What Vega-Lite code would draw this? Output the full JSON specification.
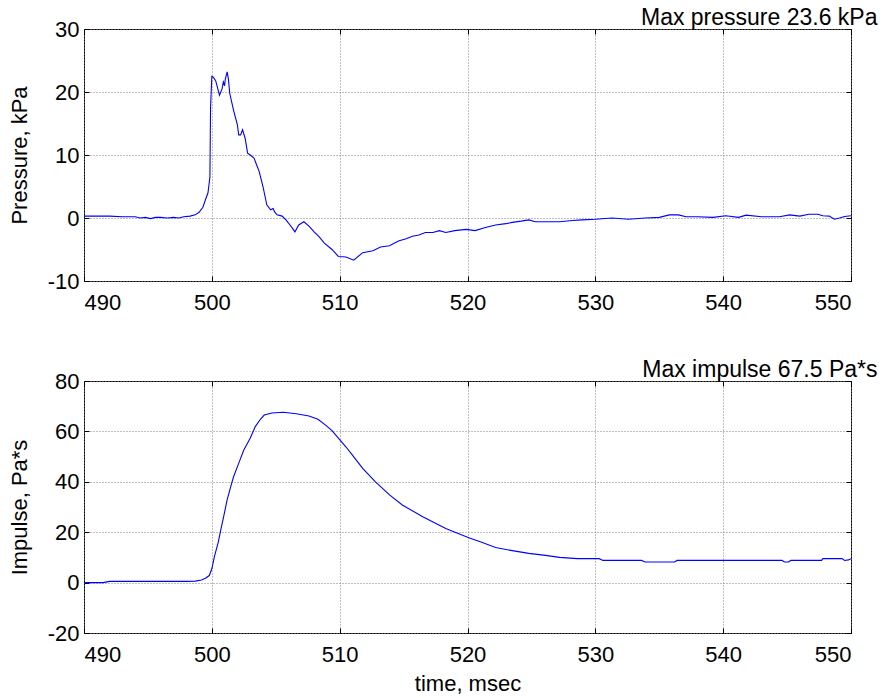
{
  "$schema": "https://vega.github.io/schema/vega-lite/v6.json",
  "padding": {"left": 7, "top": 6, "right": 0, "bottom": 0},
  "background": "white",
  "bounds": "flush",
  "spacing": 100,
  "config": {
    "font": "Liberation Sans",
    "view": {"stroke": "black", "strokeWidth": 1},
    "axis": {
      "labelFont": "Liberation Sans", "labelFontSize": 22, "labelColor": "black",
      "labelExpr": "'' + datum.value",
      "titleFont": "Liberation Sans", "titleFontSize": 22, "titleFontWeight": "normal", "titleColor": "black",
      "gridColor": "#7f7f7f", "gridDash": [1, 2], "gridOpacity": 1, "gridWidth": 1,
      "tickColor": "black", "tickSize": -5, "tickWidth": 1, "domain": false
    },
    "axisX": {"labelPadding": 16, "titlePadding": 8},
    "axisY": {"labelPadding": 10, "titlePadding": 16},
    "title": {"font": "Liberation Sans", "fontSize": 23, "fontWeight": "normal", "color": "black", "anchor": "end", "dx": 26, "offset": -12}
  },
  "datasets": {
    "pressure": [
      {"t": 490.0, "p": 0.3}, {"t": 491.0, "p": 0.3}, {"t": 492.0, "p": 0.3}, {"t": 493.0, "p": 0.2},
      {"t": 494.0, "p": 0.2}, {"t": 494.4, "p": 0.0}, {"t": 494.8, "p": 0.1}, {"t": 495.2, "p": -0.1},
      {"t": 495.6, "p": 0.1}, {"t": 496.0, "p": 0.1}, {"t": 496.5, "p": 0.0}, {"t": 497.0, "p": 0.1},
      {"t": 497.4, "p": 0.0}, {"t": 497.8, "p": 0.2}, {"t": 498.3, "p": 0.3}, {"t": 498.7, "p": 0.5},
      {"t": 499.0, "p": 0.9}, {"t": 499.3, "p": 1.7}, {"t": 499.5, "p": 2.9}, {"t": 499.7, "p": 4.0},
      {"t": 499.85, "p": 6.5}, {"t": 499.9, "p": 17.5}, {"t": 500.0, "p": 22.5}, {"t": 500.1, "p": 22.4},
      {"t": 500.3, "p": 21.8}, {"t": 500.6, "p": 19.5}, {"t": 500.8, "p": 20.5}, {"t": 500.9, "p": 21.6},
      {"t": 501.0, "p": 21.0}, {"t": 501.05, "p": 22.0}, {"t": 501.2, "p": 23.2}, {"t": 501.3, "p": 22.0},
      {"t": 501.4, "p": 19.8}, {"t": 501.7, "p": 17.1}, {"t": 502.0, "p": 14.8}, {"t": 502.1, "p": 13.2},
      {"t": 502.25, "p": 13.2}, {"t": 502.4, "p": 14.0}, {"t": 502.6, "p": 12.7}, {"t": 502.8, "p": 10.3},
      {"t": 503.0, "p": 10.0}, {"t": 503.3, "p": 9.5}, {"t": 503.7, "p": 7.4}, {"t": 504.0, "p": 5.0},
      {"t": 504.3, "p": 2.1}, {"t": 504.6, "p": 1.3}, {"t": 504.8, "p": 1.5}, {"t": 504.9, "p": 1.0},
      {"t": 505.1, "p": 0.5}, {"t": 505.5, "p": 0.3}, {"t": 505.8, "p": -0.3}, {"t": 506.0, "p": -0.8},
      {"t": 506.3, "p": -1.6}, {"t": 506.5, "p": -2.2}, {"t": 506.8, "p": -1.1}, {"t": 507.2, "p": -0.6},
      {"t": 507.6, "p": -1.3}, {"t": 508.0, "p": -2.2}, {"t": 508.4, "p": -3.0}, {"t": 508.8, "p": -4.0},
      {"t": 509.4, "p": -5.0}, {"t": 509.9, "p": -6.1}, {"t": 510.5, "p": -6.2}, {"t": 511.1, "p": -6.7},
      {"t": 511.8, "p": -5.5}, {"t": 512.6, "p": -5.2}, {"t": 513.2, "p": -4.6}, {"t": 513.9, "p": -4.4},
      {"t": 514.6, "p": -3.65}, {"t": 515.2, "p": -3.3}, {"t": 515.7, "p": -2.9}, {"t": 516.2, "p": -2.7},
      {"t": 516.7, "p": -2.3}, {"t": 517.3, "p": -2.3}, {"t": 517.8, "p": -2.0}, {"t": 518.3, "p": -2.3},
      {"t": 519.0, "p": -2.0}, {"t": 519.9, "p": -1.8}, {"t": 520.6, "p": -2.0}, {"t": 521.4, "p": -1.5},
      {"t": 522.2, "p": -1.1}, {"t": 523.0, "p": -0.9}, {"t": 523.5, "p": -0.7}, {"t": 524.2, "p": -0.5},
      {"t": 524.8, "p": -0.3}, {"t": 525.3, "p": -0.6}, {"t": 526.0, "p": -0.6}, {"t": 527.2, "p": -0.6},
      {"t": 528.2, "p": -0.4}, {"t": 529.0, "p": -0.3}, {"t": 530.0, "p": -0.2}, {"t": 531.3, "p": 0.0},
      {"t": 532.6, "p": -0.2}, {"t": 533.9, "p": 0.0}, {"t": 535.0, "p": 0.1}, {"t": 535.8, "p": 0.5},
      {"t": 536.5, "p": 0.5}, {"t": 537.1, "p": 0.2}, {"t": 538.0, "p": 0.2}, {"t": 539.2, "p": 0.1},
      {"t": 540.2, "p": 0.35}, {"t": 541.2, "p": 0.1}, {"t": 541.8, "p": 0.45}, {"t": 543.0, "p": 0.2},
      {"t": 544.4, "p": 0.2}, {"t": 545.2, "p": 0.5}, {"t": 546.0, "p": 0.3}, {"t": 546.7, "p": 0.6},
      {"t": 547.4, "p": 0.6}, {"t": 547.8, "p": 0.35}, {"t": 548.3, "p": 0.3}, {"t": 548.7, "p": -0.2},
      {"t": 549.1, "p": 0.0}, {"t": 549.5, "p": 0.25}, {"t": 550.0, "p": 0.35}
    ],
    "impulse": [
      {"t": 490.0, "i": 0.0}, {"t": 491.5, "i": 0.0}, {"t": 492.0, "i": 0.5}, {"t": 498.0, "i": 0.5},
      {"t": 498.7, "i": 0.6}, {"t": 499.2, "i": 1.0}, {"t": 499.5, "i": 1.7}, {"t": 499.8, "i": 2.8},
      {"t": 500.0, "i": 5.5}, {"t": 500.2, "i": 10.3}, {"t": 500.5, "i": 16.0}, {"t": 500.7, "i": 20.9},
      {"t": 501.0, "i": 28.0}, {"t": 501.2, "i": 32.9}, {"t": 501.5, "i": 38.5}, {"t": 501.7, "i": 42.0},
      {"t": 502.1, "i": 47.3}, {"t": 502.5, "i": 52.6}, {"t": 503.0, "i": 57.3}, {"t": 503.4, "i": 61.9},
      {"t": 503.8, "i": 64.8}, {"t": 504.1, "i": 66.5}, {"t": 504.7, "i": 67.3}, {"t": 505.6, "i": 67.6},
      {"t": 506.6, "i": 67.0}, {"t": 507.6, "i": 66.1}, {"t": 508.3, "i": 64.8}, {"t": 508.9, "i": 62.5},
      {"t": 509.4, "i": 60.3}, {"t": 509.9, "i": 57.3}, {"t": 510.5, "i": 53.8}, {"t": 511.0, "i": 50.6},
      {"t": 511.8, "i": 45.3}, {"t": 512.8, "i": 40.0}, {"t": 513.9, "i": 34.8}, {"t": 514.9, "i": 30.8},
      {"t": 516.5, "i": 26.1}, {"t": 518.3, "i": 21.5}, {"t": 520.1, "i": 17.8}, {"t": 521.0, "i": 16.2},
      {"t": 522.2, "i": 13.9}, {"t": 523.5, "i": 12.7}, {"t": 524.8, "i": 11.6}, {"t": 526.1, "i": 10.8},
      {"t": 527.2, "i": 10.0}, {"t": 528.6, "i": 9.5}, {"t": 530.3, "i": 9.5}, {"t": 530.6, "i": 8.8},
      {"t": 533.6, "i": 8.8}, {"t": 533.9, "i": 8.2}, {"t": 536.2, "i": 8.2}, {"t": 536.4, "i": 8.8},
      {"t": 544.6, "i": 8.8}, {"t": 544.8, "i": 8.2}, {"t": 545.1, "i": 8.2}, {"t": 545.3, "i": 8.8},
      {"t": 547.7, "i": 8.8}, {"t": 547.8, "i": 9.5}, {"t": 549.3, "i": 9.5}, {"t": 549.5, "i": 8.8},
      {"t": 549.8, "i": 9.0}, {"t": 550.0, "i": 9.5}
    ]
  },
  "vconcat": [
    {
      "width": 767,
      "height": 252,
      "title": {"text": "Max pressure 23.6 kPa"},
      "data": {"name": "pressure"},
      "layer": [
        {
          "mark": {"type": "line", "color": "#0000ff", "strokeWidth": 1.1, "clip": true},
          "encoding": {
            "x": {"field": "t", "type": "quantitative", "scale": {"domain": [490, 550], "nice": false, "zero": false},
                  "axis": {"orient": "bottom", "values": [490, 500, 510, 520, 530, 540, 550], "title": null, "grid": true}},
            "y": {"field": "p", "type": "quantitative", "scale": {"domain": [-10, 30], "nice": false, "zero": false},
                  "axis": {"orient": "left", "values": [-10, 0, 10, 20, 30], "title": "Pressure, kPa", "grid": true}}
          }
        },
        {
          "mark": {"type": "line", "strokeOpacity": 0, "clip": true},
          "encoding": {
            "x": {"field": "t", "type": "quantitative",
                  "axis": {"orient": "top", "values": [490, 500, 510, 520, 530, 540, 550], "title": null, "labels": false, "grid": false}},
            "y": {"field": "p", "type": "quantitative",
                  "axis": {"orient": "right", "values": [-10, 0, 10, 20, 30], "title": null, "labels": false, "grid": false}}
          }
        }
      ],
      "resolve": {"axis": {"x": "independent", "y": "independent"}}
    },
    {
      "width": 767,
      "height": 252,
      "title": {"text": "Max impulse 67.5 Pa*s"},
      "data": {"name": "impulse"},
      "layer": [
        {
          "mark": {"type": "line", "color": "#0000ff", "strokeWidth": 1.1, "clip": true},
          "encoding": {
            "x": {"field": "t", "type": "quantitative", "scale": {"domain": [490, 550], "nice": false, "zero": false},
                  "axis": {"orient": "bottom", "values": [490, 500, 510, 520, 530, 540, 550], "title": "time, msec", "grid": true}},
            "y": {"field": "i", "type": "quantitative", "scale": {"domain": [-20, 80], "nice": false, "zero": false},
                  "axis": {"orient": "left", "values": [-20, 0, 20, 40, 60, 80], "title": "Impulse, Pa*s", "grid": true}}
          }
        },
        {
          "mark": {"type": "line", "strokeOpacity": 0, "clip": true},
          "encoding": {
            "x": {"field": "t", "type": "quantitative",
                  "axis": {"orient": "top", "values": [490, 500, 510, 520, 530, 540, 550], "title": null, "labels": false, "grid": false}},
            "y": {"field": "i", "type": "quantitative",
                  "axis": {"orient": "right", "values": [-20, 0, 20, 40, 60, 80], "title": null, "labels": false, "grid": false}}
          }
        }
      ],
      "resolve": {"axis": {"x": "independent", "y": "independent"}}
    }
  ]
}
